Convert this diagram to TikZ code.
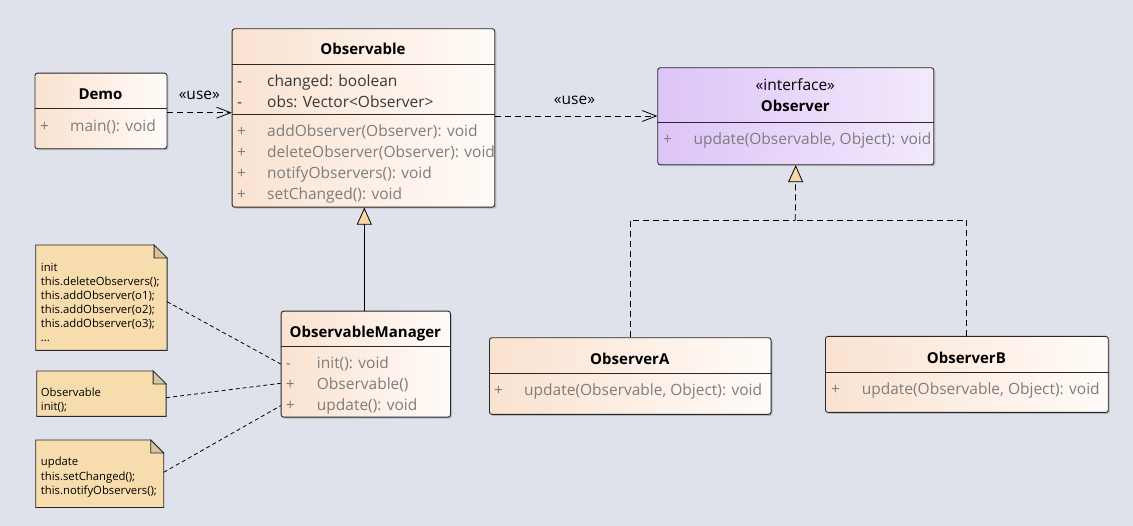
\documentclass[tikz,border=0pt]{standalone}
\usepackage{fontspec}
\setmainfont{Open Sans}
\usetikzlibrary{arrows.meta,calc,shadows}
\definecolor{bg}{RGB}{223,226,235}
\definecolor{clsL}{RGB}{250,226,208}
\definecolor{clsR}{RGB}{255,251,248}
\definecolor{ifL}{RGB}{221,196,248}
\definecolor{ifR}{RGB}{243,234,252}
\definecolor{notef}{RGB}{247,221,174}
\definecolor{foldf}{RGB}{214,196,160}
\definecolor{boxline}{RGB}{40,40,40}
\definecolor{attrc}{RGB}{55,55,55}
\definecolor{opc}{RGB}{125,125,125}
\definecolor{trif}{RGB}{250,214,168}
\begin{document}
\begin{tikzpicture}[x=1pt,y=-1pt,
  box/.style={draw=boxline, line width=0.9pt, rounded corners=2.5pt, anchor=north west, inner sep=0pt,
    drop shadow={shadow xshift=1.5pt, shadow yshift=-1.5pt, fill=black, opacity=0.18}},
  clsfill/.style={left color=clsL, right color=clsR},
  iffill/.style={left color=ifL, right color=ifR},
  sepline/.style={draw=boxline, line width=0.9pt},
  txt/.style={anchor=base west, inner sep=0pt, yshift=-1.2pt, font=\fontsize{15.5}{18}\selectfont},
  attr/.style={txt, text=attrc},
  oper/.style={txt, text=opc},
  ttl/.style={anchor=base, inner sep=0pt, yshift=-1pt, font=\bfseries\fontsize{15}{18}\selectfont},
  stereo/.style={anchor=base, inner sep=0pt, yshift=-1pt, font=\fontsize{15.5}{18}\selectfont},
  notebox/.style={anchor=north west, inner sep=0pt},
  notedraw/.style={draw=boxline, line width=0.8pt, fill=notef},
  notetxt/.style={anchor=base west, inner sep=0pt, font=\fontsize{11.3}{13}\selectfont},
  dep/.style={draw=black, line width=0.8pt, dash pattern=on 6pt off 4pt, -{Straight Barb[length=14pt,width=11pt]}},
  notelink/.style={draw=black, line width=0.8pt, dash pattern=on 4pt off 3pt},
  gen/.style={draw=black, line width=0.8pt, -{Triangle[open, length=17pt, width=15pt, fill=trif]}},
  realline/.style={draw=black, line width=0.8pt, dash pattern=on 6pt off 4pt},
]
\fill[bg] (0,0) rectangle (1133,526);
\useasboundingbox (0,0) rectangle (1133,526);

% ---------- Demo ----------
\node[box, clsfill, minimum width=132pt, minimum height=75.6pt] (demo) at (34.5,72.7) {};
\draw[sepline] (demo.west |- 0,108.3) -- (demo.east |- 0,108.3);
\node[ttl] (demoT) at (100.5,99) {Demo};
\node[oper] (demoV1) at (40,130) {+};
\node[oper] (demoO1) at (70,130) {main(): void};

% ---------- Observable ----------
\node[box, clsfill, minimum width=262.6pt, minimum height=178.4pt] (obs) at (231.7,28.3) {};
\draw[sepline] (obs.west |- 0,64.3) -- (obs.east |- 0,64.3);
\draw[sepline] (obs.west |- 0,114.3) -- (obs.east |- 0,114.3);
\node[ttl] (obsT) at (363,54) {Observable};
\node[attr] (obsV1) at (237,85) {-};
\node[attr] (obsA1) at (267,85) {changed: boolean};
\node[attr] (obsV2) at (237,106) {-};
\node[attr] (obsA2) at (267,106) {obs: Vector<Observer>};
\node[oper] (obsV3) at (237,135) {+};
\node[oper] (obsO1) at (267,135) {addObserver(Observer): void};
\node[oper] (obsV4) at (237,156) {+};
\node[oper] (obsO2) at (267,156) {deleteObserver(Observer): void};
\node[oper] (obsV5) at (237,177) {+};
\node[oper] (obsO3) at (267,177) {notifyObservers(): void};
\node[oper] (obsV6) at (237,198) {+};
\node[oper] (obsO4) at (267,198) {setChanged(): void};

% ---------- Observer (interface) ----------
\node[box, iffill, minimum width=276pt, minimum height=97pt] (iface) at (657.3,67.3) {};
\draw[sepline] (iface.west |- 0,122.3) -- (iface.east |- 0,122.3);
\node[stereo] (ifS) at (795.3,90) {«interface»};
\node[ttl] (ifT) at (795.3,110.7) {Observer};
\node[oper] (ifV1) at (663,143) {+};
\node[oper] (ifO1) at (693.3,143) {update(Observable, Object): void};

% ---------- ObservableManager ----------
\node[box, clsfill, minimum width=169.3pt, minimum height=106pt] (mgr) at (280.7,310.7) {};
\draw[sepline] (mgr.west |- 0,346.7) -- (mgr.east |- 0,346.7);
\node[ttl] (mgrT) at (365.3,337) {ObservableManager};
\node[oper] (mgrV1) at (285.7,367) {-};
\node[oper] (mgrO1) at (316.7,367) {init(): void};
\node[oper] (mgrV2) at (285.7,388) {+};
\node[oper] (mgrO2) at (316.7,388) {Observable()};
\node[oper] (mgrV3) at (285.7,409) {+};
\node[oper] (mgrO3) at (316.7,409) {update(): void};

% ---------- ObserverA ----------
\node[box, clsfill, minimum width=281.6pt, minimum height=76.7pt] (oa) at (489,337.3) {};
\draw[sepline] (oa.west |- 0,373.3) -- (oa.east |- 0,373.3);
\node[ttl] (oaT) at (629.8,363.3) {ObserverA};
\node[oper] (oaV1) at (494,394.5) {+};
\node[oper] (oaO1) at (524,394.5) {update(Observable, Object): void};

% ---------- ObserverB ----------
\node[box, clsfill, minimum width=282.8pt, minimum height=76pt] (ob) at (825,336) {};
\draw[sepline] (ob.west |- 0,372.3) -- (ob.east |- 0,372.3);
\node[ttl] (obT) at (966.4,362.3) {ObserverB};
\node[oper] (obV1) at (831,393.3) {+};
\node[oper] (obO1) at (861.6,393.3) {update(Observable, Object): void};

% ---------- Notes ----------
\node[notebox, minimum width=131pt, minimum height=105pt] (n1) at (35.7,245) {};
\draw[notedraw] (n1.north west) -- ($(n1.north east)+(-13,0)$) -- ($(n1.north east)+(0,13)$) -- (n1.south east) -- (n1.south west) -- cycle;
\draw[draw=boxline, line width=0.8pt, fill=foldf] ($(n1.north east)+(-13,0)$) -- ($(n1.north east)+(-13,13)$) -- ($(n1.north east)+(0,13)$) -- cycle;
\node[notetxt] (n1L1) at (40.7,271.7) {init};
\node[notetxt] (n1L2) at (40.7,285.7) {this.deleteObservers();};
\node[notetxt] (n1L3) at (40.7,299.7) {this.addObserver(o1);};
\node[notetxt] (n1L4) at (40.7,313.7) {this.addObserver(o2);};
\node[notetxt] (n1L5) at (40.7,327.7) {this.addObserver(o3);};
\node[notetxt] (n1L6) at (40.7,341.7) {...};

\node[notebox, minimum width=129pt, minimum height=45pt] (n2) at (36.7,371) {};
\draw[notedraw] (n2.north west) -- ($(n2.north east)+(-13,0)$) -- ($(n2.north east)+(0,13)$) -- (n2.south east) -- (n2.south west) -- cycle;
\draw[draw=boxline, line width=0.8pt, fill=foldf] ($(n2.north east)+(-13,0)$) -- ($(n2.north east)+(-13,13)$) -- ($(n2.north east)+(0,13)$) -- cycle;
\node[notetxt] (n2L1) at (40.7,396.7) {Observable};
\node[notetxt] (n2L2) at (40.7,410.7) {init();};

\node[notebox, minimum width=127.6pt, minimum height=67pt] (n3) at (35.7,440) {};
\draw[notedraw] (n3.north west) -- ($(n3.north east)+(-13,0)$) -- ($(n3.north east)+(0,13)$) -- (n3.south east) -- (n3.south west) -- cycle;
\draw[draw=boxline, line width=0.8pt, fill=foldf] ($(n3.north east)+(-13,0)$) -- ($(n3.north east)+(-13,13)$) -- ($(n3.north east)+(0,13)$) -- cycle;
\node[notetxt] (n3L1) at (40.7,466) {update};
\node[notetxt] (n3L2) at (40.7,480) {this.setChanged();};
\node[notetxt] (n3L3) at (40.7,494) {this.notifyObservers();};

% ---------- Connectors ----------
\draw[dep] (demo.east |- 0,112.7) -- (obs.west |- 0,112.7);
\node[stereo] (use1) at (199.3,99) {«use»};
\draw[dep] (obs.east |- 0,116) -- (iface.west |- 0,116);
\node[stereo] (use2) at (574.5,104) {«use»};

\draw[gen] (mgr.north -| 364.3,0) -- (obs.south -| 364.3,0);

\coordinate (jn) at (795.3,220.3);
\draw[realline] (oa.north) |- (jn);
\draw[realline] (ob.north) |- (jn);
\draw[realline, -{Triangle[open, length=17pt, width=15pt, fill=trif]}] (jn) -- (iface.south);

\draw[notelink] (n1.east |- 0,301.7) -- (mgr.west |- 0,364);
\draw[notelink] (n2.east |- 0,397.7) -- (mgr.west |- 0,383.3);
\draw[notelink] (n3.east |- 0,472.3) -- (mgr.west |- 0,405.7);
\end{tikzpicture}
\end{document}
